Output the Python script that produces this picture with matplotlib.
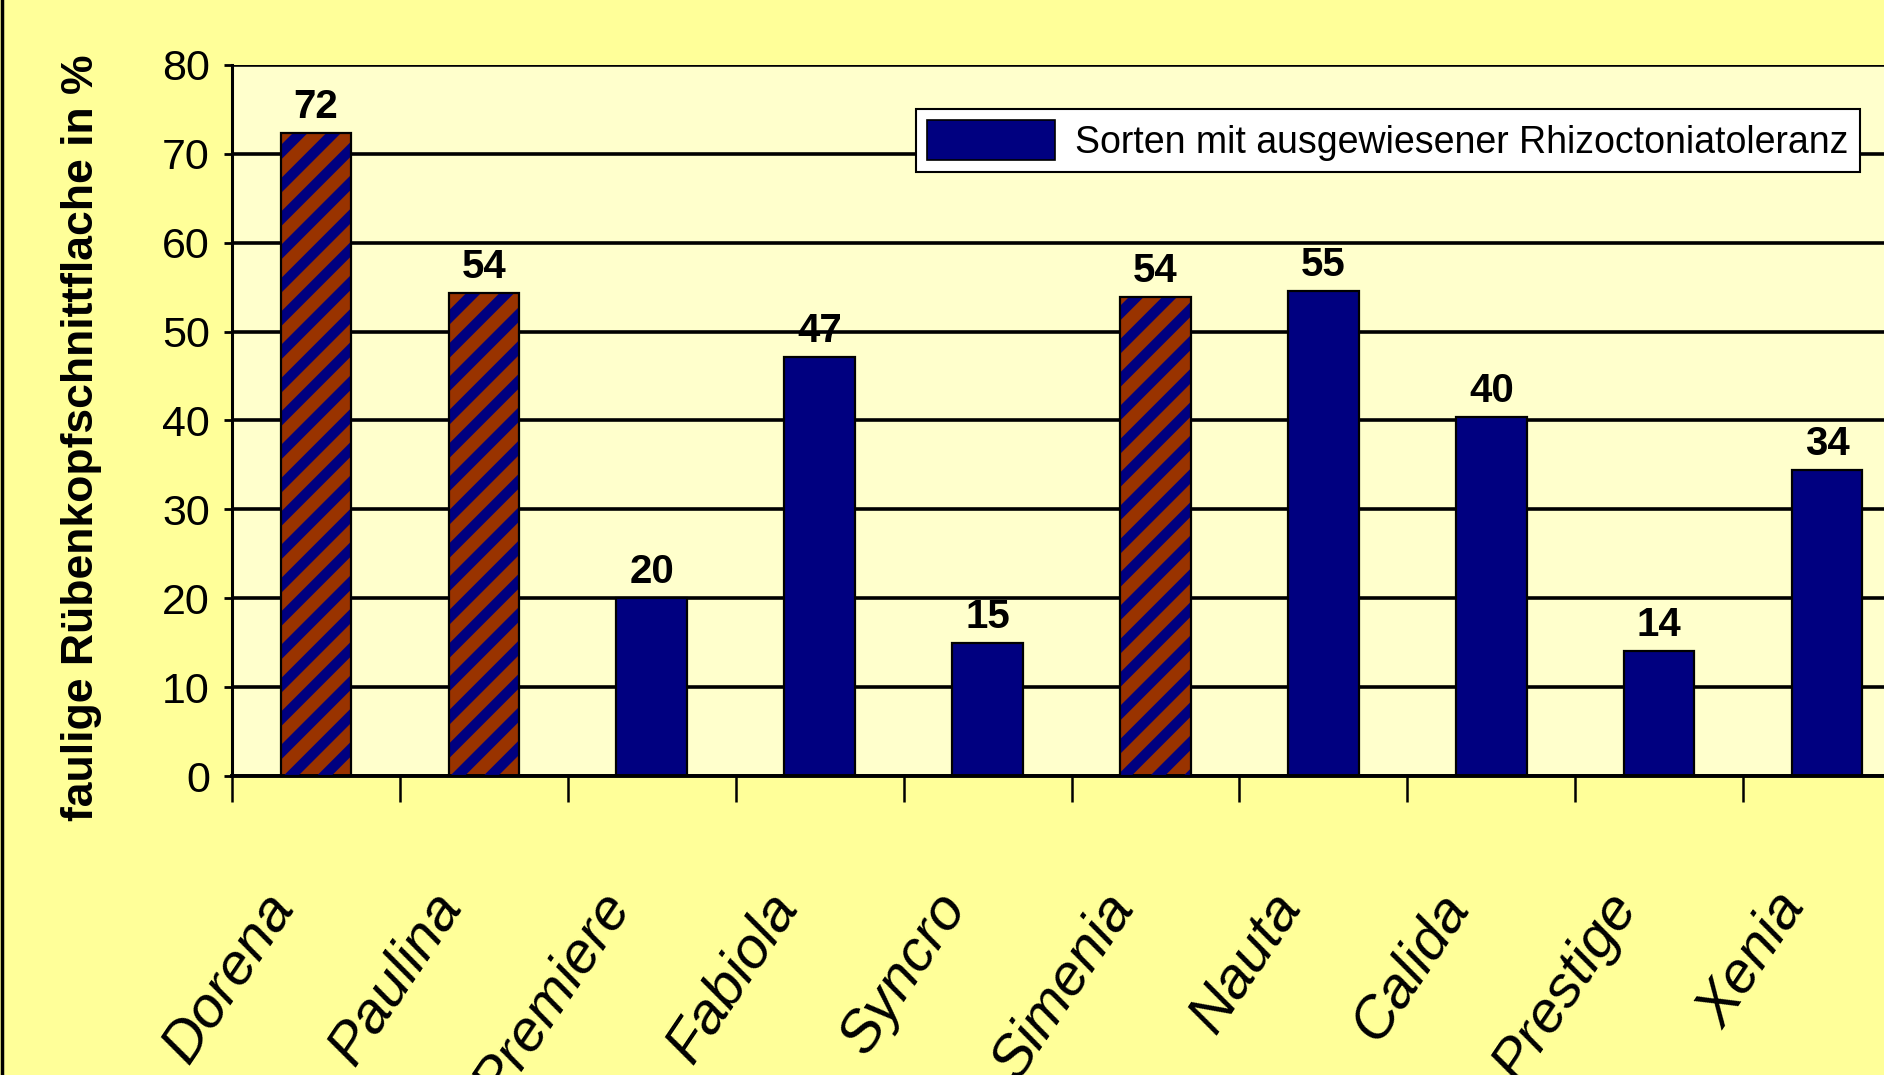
import matplotlib
matplotlib.use("Agg")
import matplotlib.pyplot as plt
import matplotlib.patches as mpatches
from matplotlib.lines import Line2D

# Daten
sorten = ["Dorena", "Paulina", "Premiere", "Fabiola", "Syncro",
          "Simenia", "Nauta", "Calida", "Prestige", "Xenia"]
werte = [72.4, 54.4, 20.0, 47.1, 15.0, 53.9, 54.6, 40.4, 14.1, 34.4]
tolerant = [False, False, True, True, True, False, True, True, True, True]
y_ticks = [0, 10, 20, 30, 40, 50, 60, 70, 80]
legende = "Sorten mit ausgewiesener Rhizoctoniatoleranz"
y_titel = "faulige Rübenkopfschnittflache in %"

blau = "#000080"
braun = "#993300"

plt.rcParams["hatch.linewidth"] = 7.5
plt.rcParams["hatch.color"] = blau
schrift = ["Liberation Sans", "DejaVu Sans"]

W, H = 1884, 1075
fig = plt.figure(figsize=(W / 100, H / 100), dpi=100)
fig.patch.set_facecolor("#FFFF99")

# Achsen gehen rechts über den Bildrand hinaus (wie im Original)
ax = fig.add_axes([232 / W, 299 / H, 1679 / W, 711 / H])
ax.set_facecolor("#FFFFCC")

x = list(range(len(sorten)))
farben = [blau if t else braun for t in tolerant]
ax.bar(x, werte, width=0.42, color=farben, edgecolor="none", zorder=2)

# Schraffur fuer nicht tolerante Sorten
hx = [i for i in x if not tolerant[i]]
hv = [werte[i] for i in hx]
ax.bar(hx, hv, width=0.42, fill=False, edgecolor=blau, hatch="/", linewidth=0, zorder=3)

umriss = ax.bar(x, werte, width=0.42, fill=False, edgecolor="black", linewidth=1.6, zorder=4)
ax.bar_label(umriss, labels=[f"{v:.0f}" for v in werte], padding=5,
             fontsize=29, fontweight="bold", family=schrift)

ax.set_xlim(-0.5, 9.5)
ax.set_ylim(0, 80)
ax.set_yticks(y_ticks)
ax.set_yticklabels([str(t) for t in y_ticks], fontsize=31, family=schrift)
ax.tick_params(axis="y", length=6, width=2, pad=10, direction="out")

ax.set_xticks([i - 0.5 for i in range(len(sorten) + 1)])
ax.set_xticklabels([])
ax.tick_params(axis="x", length=19, width=1.8, direction="out")

ax.grid(axis="y", color="black", linewidth=2.6)
ax.set_axisbelow(True)
for s in ["top", "right"]:
    ax.spines[s].set_visible(False)
ax.spines["left"].set_linewidth(2.2)
ax.spines["bottom"].set_linewidth(2.8)

for i, name in enumerate(sorten):
    ax.annotate(name, (i, 0), xytext=(-24, -88), textcoords="offset points",
                rotation=56, ha="right", va="center", rotation_mode="anchor",
                fontsize=42, style="italic", family=schrift, annotation_clip=False)

fig.text(82 / W, 1 - 438 / H, y_titel, rotation=90, ha="center", va="center",
         fontsize=32, fontweight="bold", family=schrift)

handle = mpatches.Patch(facecolor=blau, edgecolor="black", linewidth=1.2)
leg = fig.legend([handle], [legende], loc="upper right",
                 bbox_to_anchor=(1860 / W, 1 - 109 / H), borderaxespad=0,
                 prop={"family": schrift, "size": 27}, fancybox=False,
                 framealpha=1, edgecolor="black", facecolor="white",
                 handlelength=3.4, handleheight=1.25, handletextpad=0.55,
                 borderpad=0.3)
leg.get_frame().set_linewidth(1.5)

# schwarzer Rand links
fig.add_artist(Line2D([0.0012, 0.0012], [0, 1], color="black", linewidth=2.5,
                      transform=fig.transFigure))

fig.savefig("out.png", dpi=100, facecolor=fig.get_facecolor())
